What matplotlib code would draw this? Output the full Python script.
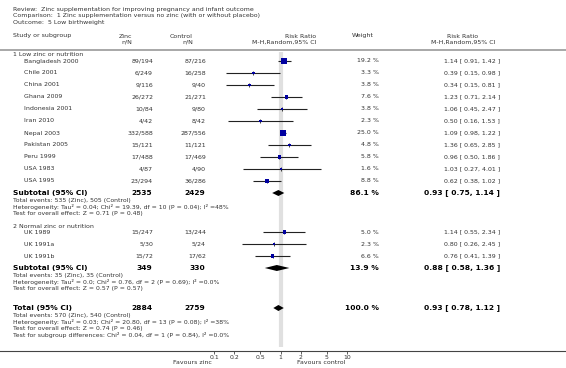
import numpy as np
import matplotlib
matplotlib.use("Agg")
import matplotlib.pyplot as plt
from matplotlib.patches import Polygon

# subgroup 1: low zinc or nutrition
studies_low = ["Bangladesh 2000", "Chile 2001", "China 2001", "Ghana 2009", "Indonesia 2001",
               "Iran 2010", "Nepal 2003", "Pakistan 2005", "Peru 1999", "USA 1983", "USA 1995"]
zinc_low = ["89/194", "6/249", "9/116", "26/272", "10/84", "4/42", "332/588", "15/121", "17/488", "4/87", "23/294"]
control_low = ["87/216", "16/258", "9/40", "21/271", "9/80", "8/42", "287/556", "11/121", "17/469", "4/90", "36/286"]
weight_low = [19.2, 3.3, 3.8, 7.6, 3.8, 2.3, 25.0, 4.8, 5.8, 1.6, 8.8]
rr_low = [1.14, 0.39, 0.34, 1.23, 1.06, 0.50, 1.09, 1.36, 0.96, 1.03, 0.62]
lo_low = [0.91, 0.15, 0.15, 0.71, 0.45, 0.16, 0.98, 0.65, 0.50, 0.27, 0.38]
hi_low = [1.42, 0.98, 0.81, 2.14, 2.47, 1.53, 1.22, 2.85, 1.86, 4.01, 1.02]

# subgroup 2: normal zinc or nutrition
studies_norm = ["UK 1989", "UK 1991a", "UK 1991b"]
zinc_norm = ["15/247", "5/30", "15/72"]
control_norm = ["13/244", "5/24", "17/62"]
weight_norm = [5.0, 2.3, 6.6]
rr_norm = [1.14, 0.80, 0.76]
lo_norm = [0.55, 0.26, 0.41]
hi_norm = [2.34, 2.45, 1.39]

# pooled estimates: (label, n zinc, n control, weight, rr, lo, hi)
sub_low = ("Subtotal (95% CI)", 2535, 2429, 86.1, 0.93, 0.75, 1.14)
sub_norm = ("Subtotal (95% CI)", 349, 330, 13.9, 0.88, 0.58, 1.36)
total = ("Total (95% CI)", 2884, 2759, 100.0, 0.93, 0.78, 1.12)

notes_low = ["Total events: 535 (Zinc), 505 (Control)",
             "Heterogeneity: Tau\u00b2 = 0.04; Chi\u00b2 = 19.39, df = 10 (P = 0.04); I\u00b2 =48%",
             "Test for overall effect: Z = 0.71 (P = 0.48)"]
notes_norm = ["Total events: 35 (Zinc), 35 (Control)",
              "Heterogeneity: Tau\u00b2 = 0.0; Chi\u00b2 = 0.76, df = 2 (P = 0.69); I\u00b2 =0.0%",
              "Test for overall effect: Z = 0.57 (P = 0.57)"]
notes_total = ["Total events: 570 (Zinc), 540 (Control)",
               "Heterogeneity: Tau\u00b2 = 0.03; Chi\u00b2 = 20.80, df = 13 (P = 0.08); I\u00b2 =38%",
               "Test for overall effect: Z = 0.74 (P = 0.46)",
               "Test for subgroup differences: Chi\u00b2 = 0.04, df = 1 (P = 0.84), I\u00b2 =0.0%"]

header = ["Review:  Zinc supplementation for improving pregnancy and infant outcome",
          "Comparison:  1 Zinc supplementation versus no zinc (with or without placebo)",
          "Outcome:  5 Low birthweight"]

ticks = [0.1, 0.2, 0.5, 1, 2, 5, 10]
tick_labels = ["0.1", "0.2", "0.5", "1", "2", "5", "10"]

W, H = 566, 368
AXIS_Y = 351
TXT = "#333333"
BLUE = "#0000a0"
FS = 4.5
FS_NOTE = 4.4
FS_BOLD = 5.4
NOTE_STEP = 6.6

# column positions (pixels)
X_GROUP, X_STUDY = 13, 24
X_ZINC, X_CTRL = 153, 206
X_WEIGHT, X_RR = 379, 500

fig = plt.figure(figsize=(W / 100, H / 100), dpi=100)

# forest axes: log x, y in pixel rows from top
ax = fig.add_axes([0, (H - AXIS_Y) / H, 1, AXIS_Y / H])
px_per_dec = 66.5
x_one = 280.5
ax.set_xscale("log")
ax.set_xlim(10 ** ((0 - x_one) / px_per_dec), 10 ** ((W - x_one) / px_per_dec))
ax.set_ylim(AXIS_Y, 0)
for s in ["top", "left", "right"]:
    ax.spines[s].set_visible(False)
ax.spines["bottom"].set_color("#444444")
ax.spines["bottom"].set_linewidth(0.8)
ax.set_yticks([])
ax.set_xticks(ticks)
ax.set_xticklabels(tick_labels)
ax.xaxis.set_minor_locator(matplotlib.ticker.NullLocator())
ax.tick_params(axis="x", length=2, width=0.6, color="#444444", labelsize=FS_NOTE,
               labelcolor=TXT, pad=1)
ax.patch.set_alpha(0)

ax.vlines(1, 52, 347, color="#e0e0e0", lw=3, zorder=0)

# text overlay
tx = fig.add_axes([0, 0, 1, 1])
tx.set_xlim(0, W)
tx.set_ylim(H, 0)
tx.axis("off")
tx.patch.set_alpha(0)


def t(x, y, s, ha="left", size=FS, bold=False, color=TXT):
    tx.text(x, y, s, ha=ha, va="center", fontsize=size,
            fontweight="bold" if bold else "normal", color="black" if bold else color)


for i, line in enumerate(header):
    t(X_GROUP, 9 + i * 6.6, line)

t(X_GROUP, 36, "Study or subgroup")
t(132, 36, "Zinc", ha="right")
t(132, 42, "n/N", ha="right")
t(193, 36, "Control", ha="right")
t(193, 42, "n/N", ha="right")
t(316, 36, "Risk Ratio", ha="right")
t(316, 42, "M-H,Random,95% CI", ha="right")
t(363, 36, "Weight", ha="center")
t(463, 36, "Risk Ratio", ha="center")
t(463, 42, "M-H,Random,95% CI", ha="center")
tx.axhline(49.5, color="#999999", lw=1.2)


def study_rows(names, zs, cs, ws, rr, lo, hi, y0):
    ys = y0 + 12 * np.arange(len(names))
    for y, n, z, c, w, r, l, h in zip(ys, names, zs, cs, ws, rr, lo, hi):
        t(X_STUDY, y, n)
        t(X_ZINC, y, z, ha="right")
        t(X_CTRL, y, c, ha="right")
        t(X_WEIGHT, y, f"{w:.1f} %", ha="right")
        t(X_RR, y, f"{r:.2f} [ {l:.2f}, {h:.2f} ]", ha="right")
    ax.hlines(ys, lo, hi, color="#222222", lw=0.8, zorder=2)
    ax.scatter(rr, ys, marker="|", s=8, color="#222222", linewidths=0.6, zorder=2)
    side = np.sqrt(np.array(ws)) * 1.35 * 0.72
    ax.scatter(rr, ys, marker="s", s=side ** 2, color=BLUE, linewidths=0, zorder=3)
    return ys


def pooled(row, y, notes):
    label, nz, nc, w, r, l, h = row
    t(X_GROUP, y, label, size=FS_BOLD, bold=True)
    t(X_ZINC - 1, y, str(nz), ha="right", size=FS_BOLD, bold=True)
    t(X_CTRL - 1, y, str(nc), ha="right", size=FS_BOLD, bold=True)
    t(X_WEIGHT, y, f"{w:.1f} %", ha="right", size=FS_BOLD, bold=True)
    t(X_RR, y, f"{r:.2f} [ {l:.2f}, {h:.2f} ]", ha="right", size=FS_BOLD, bold=True)
    ax.add_patch(Polygon([(l, y), (r, y - 3), (h, y), (r, y + 3)], closed=True,
                         color="black", lw=0, zorder=3))
    for i, s in enumerate(notes):
        t(X_GROUP, y + 7.5 + NOTE_STEP * i, s, size=FS_NOTE)


t(X_GROUP, 55, "1 Low zinc or nutrition")
study_rows(studies_low, zinc_low, control_low, weight_low, rr_low, lo_low, hi_low, 61)
pooled(sub_low, 193, notes_low)

t(X_GROUP, 227, "2 Normal zinc or nutrition")
study_rows(studies_norm, zinc_norm, control_norm, weight_norm, rr_norm, lo_norm, hi_norm, 232)
pooled(sub_norm, 268, notes_norm)

pooled(total, 308, notes_total)

t(212, 363, "Favours zinc", ha="right")
t(297, 363, "Favours control", ha="left")

fig.savefig("out.png", dpi=100)
